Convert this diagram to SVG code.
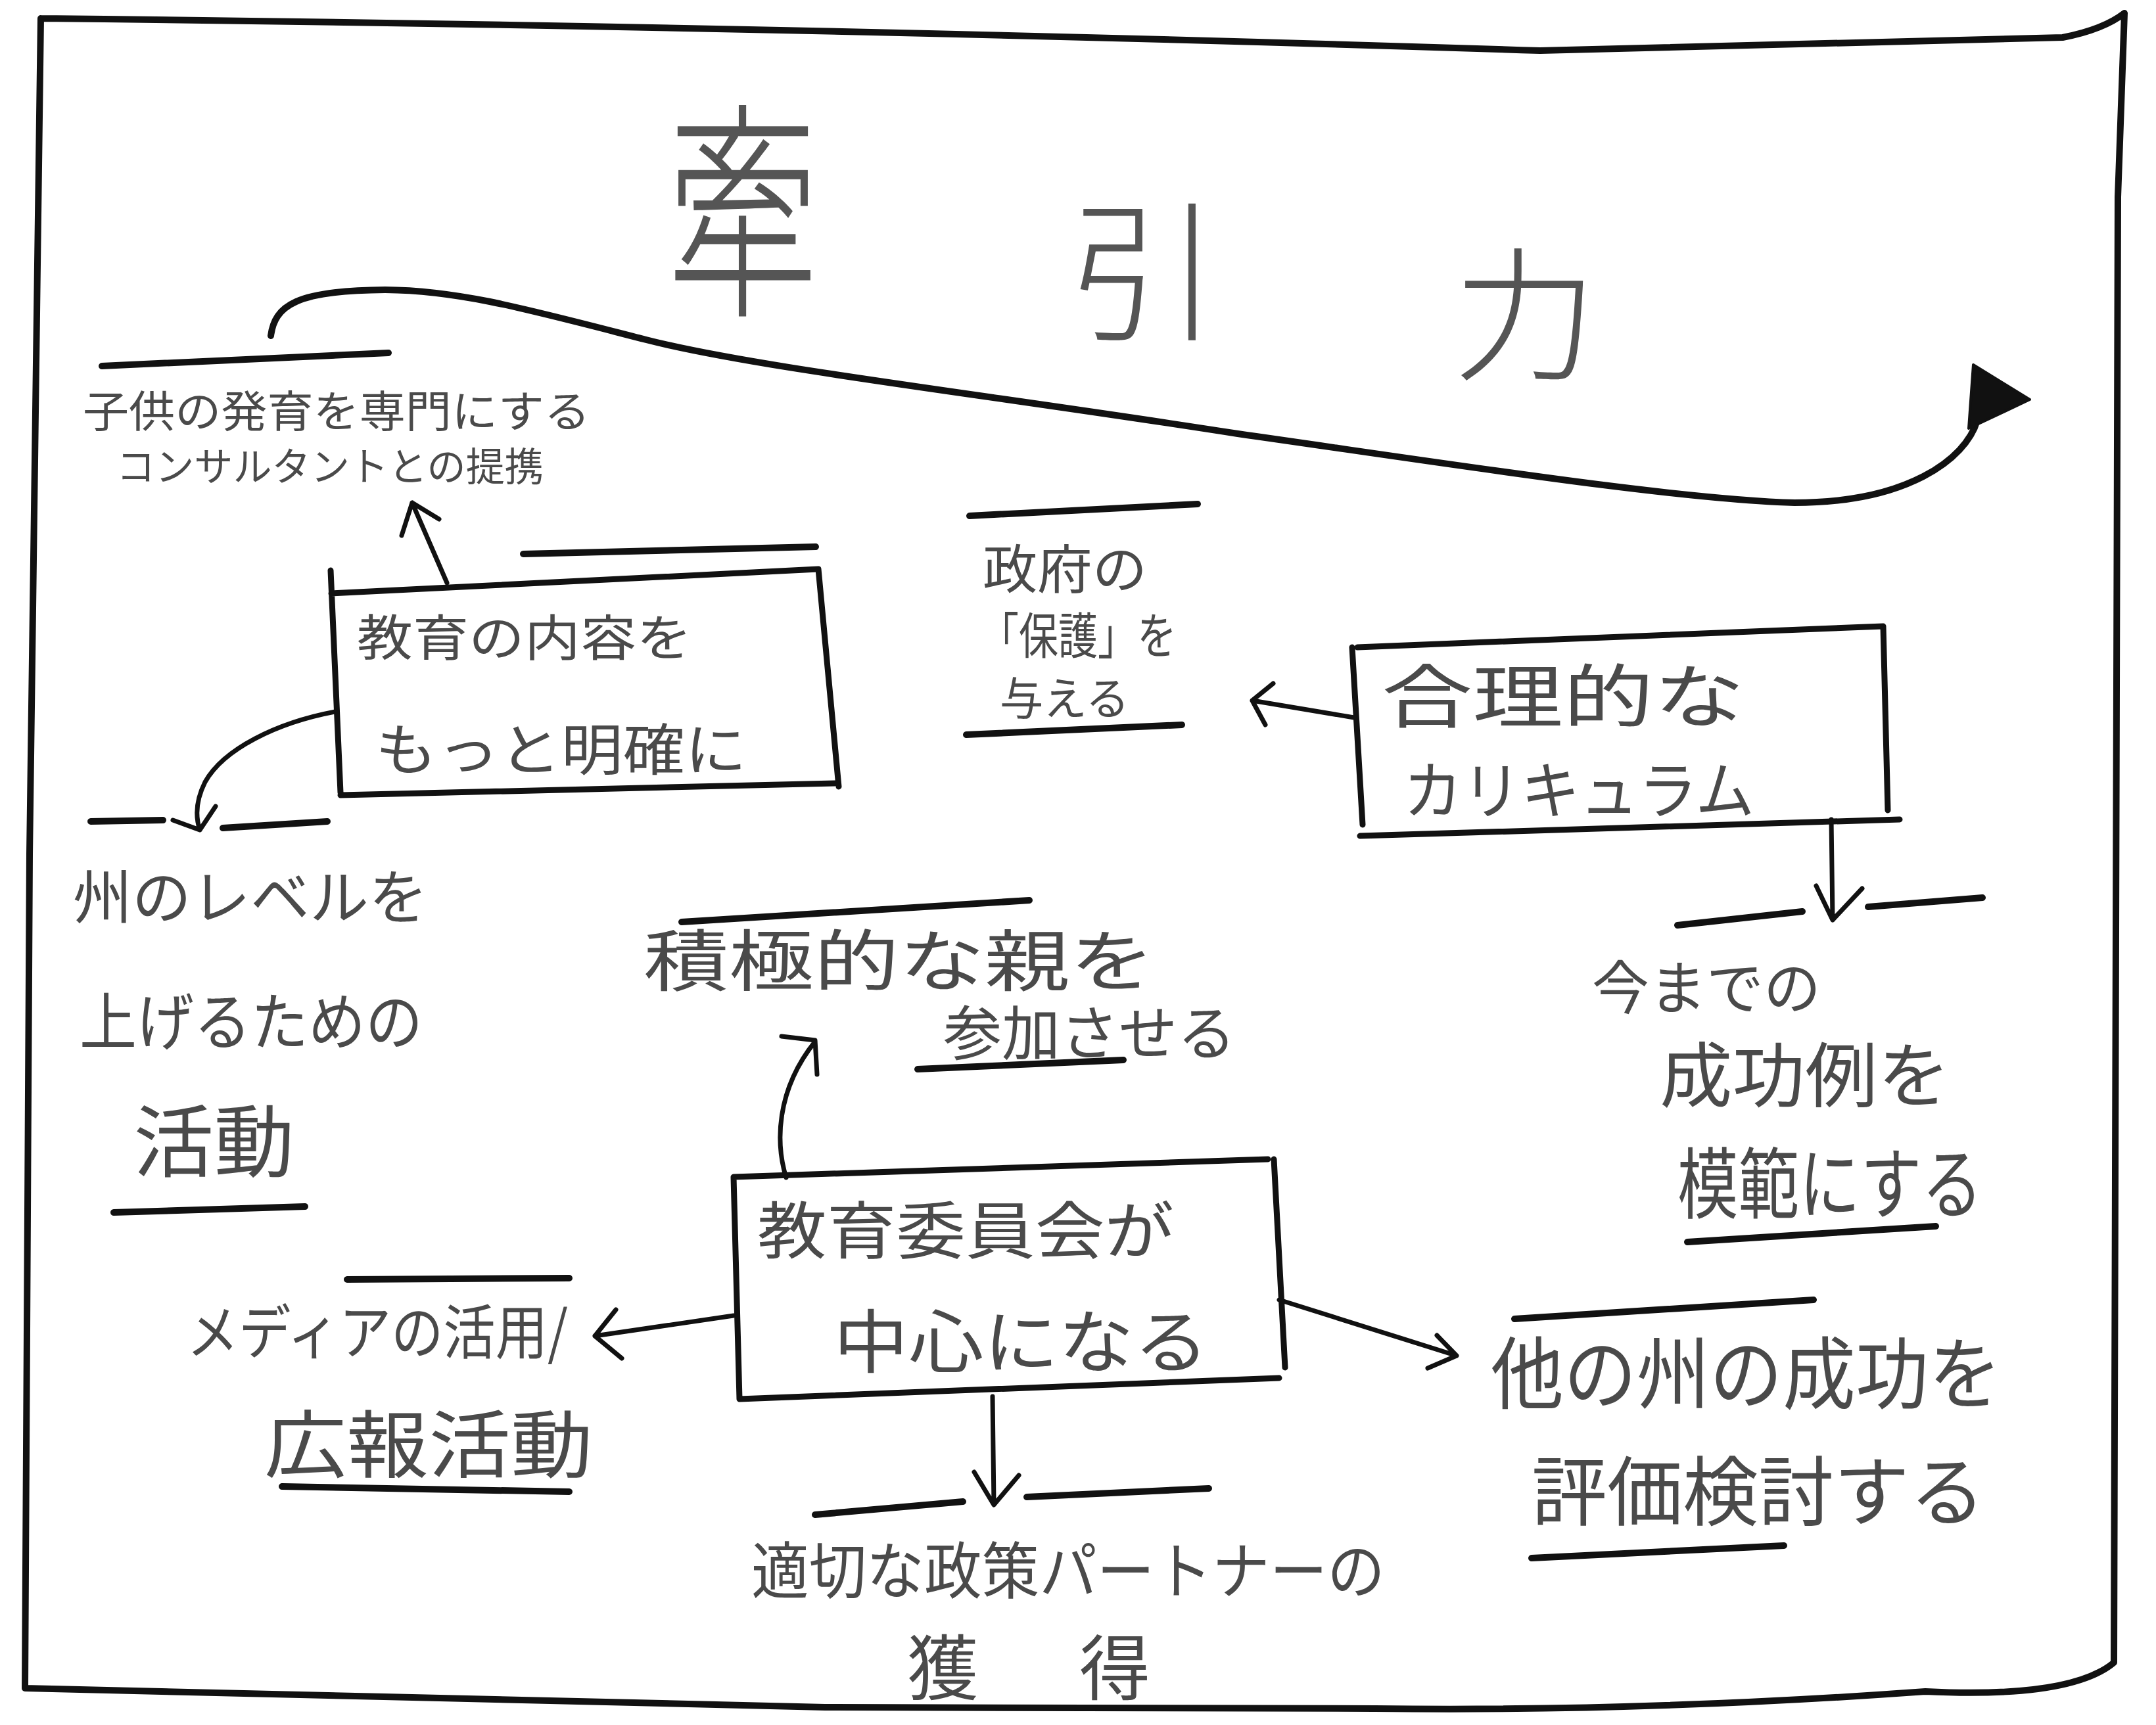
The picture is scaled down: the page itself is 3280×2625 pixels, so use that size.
<svg xmlns="http://www.w3.org/2000/svg" width="3280" height="2625" viewBox="0 0 3280 2625">
<style>
.ln{fill:none;stroke:#111;stroke-width:10;stroke-linecap:round;stroke-linejoin:round}
.bx{fill:none;stroke:#111;stroke-width:9;stroke-linecap:round;stroke-linejoin:round}
.ar{fill:none;stroke:#111;stroke-width:7;stroke-linecap:round;stroke-linejoin:round}
.t{font-family:"Noto Sans CJK JP","Noto Sans CJK SC",sans-serif;fill:#4a4a4a}
.ti{font-family:"Noto Sans CJK JP","Noto Sans CJK SC",sans-serif;fill:#555;font-weight:300}
</style>
<rect width="3280" height="2625" fill="#fff"/>
<g id="frame">
<path class="ln" d="M62,28 Q1200,40 2343,77 Q2800,66 3138,57 Q3200,45 3232,20 L3222,300 L3216,2530 Q3150,2585 2929,2574 Q2500,2605 2092,2600 Q1600,2600 1255,2598 Q900,2590 627,2583 Q300,2575 38,2569 L45,1300 L62,28"/>
</g>
<g id="title">
<text class="ti" transform="translate(1130,456) scale(0.66,1)" font-size="355" text-anchor="middle">牽</text>
<text class="ti" x="1740" y="500" font-size="230" text-anchor="middle">引</text>
<text class="ti" x="2320" y="562" font-size="220" text-anchor="middle">力</text>
</g>
<g id="connectors">
<path class="ln" d="M412,511 C418,465 450,442 586,441 C700,442 800,470 983,517 C1150,560 1500,600 1883,660 C2200,705 2550,760 2730,765 C2900,765 2990,700 3008,640"/>
<path d="M3002,555 L3088,608 L2995,652 Z" fill="#111" stroke="#111" stroke-width="4" stroke-linejoin="round"/>
<path class="ar" d="M680,887 L627,765 M611,815 L627,765 L668,790"/>
<path class="ar" d="M510,1083 C420,1100 340,1140 312,1190 C297,1220 298,1245 304,1263 M263,1248 L304,1263 L328,1227"/>
<path class="ar" d="M2060,1092 L1905,1066 M1937,1040 L1905,1066 L1925,1103"/>
<path class="ar" d="M2786,1247 L2788,1398 M2763,1348 L2788,1400 L2833,1352"/>
<path class="ar" d="M1196,1792 C1180,1740 1180,1660 1240,1585 M1189,1577 L1240,1583 L1243,1635"/>
<path class="ar" d="M1116,2002 L905,2033 M937,1993 L905,2033 L946,2067"/>
<path class="ar" d="M1946,1978 L2216,2063 M2186,2032 L2216,2063 L2172,2082"/>
<path class="ar" d="M1510,2125 L1512,2288 M1482,2240 L1512,2290 L1550,2245"/>
</g>
<g id="n-consultant">
<path class="ln" d="M155,557 L591,537"/>
<text class="t" x="126" y="650" font-size="66" textLength="772" lengthAdjust="spacingAndGlyphs">子供の発育を専門にする</text>
<text class="t" x="177" y="732" font-size="60" textLength="650" lengthAdjust="spacingAndGlyphs">コンサルタントとの提携</text>
</g>
<g id="n-content">
<path class="ln" d="M796,843 L1241,832"/>
<path class="bx" d="M503,868 L518,1206 M504,903 L1245,866 L1276,1197 M518,1210 L1270,1192"/>
<text class="t" x="543" y="998" font-size="75" textLength="510" lengthAdjust="spacingAndGlyphs">教育の内容を</text>
<text class="t" x="571" y="1172" font-size="85" textLength="565" lengthAdjust="spacingAndGlyphs">もっと明確に</text>
</g>
<g id="n-state">
<path class="ln" d="M138,1250 L248,1248 M339,1260 L498,1250 M173,1845 L464,1836"/>
<text class="t" x="111" y="1398" font-size="90" textLength="540" lengthAdjust="spacingAndGlyphs">州のレベルを</text>
<text class="t" x="121" y="1590" font-size="95" textLength="522" lengthAdjust="spacingAndGlyphs">上げるための</text>
<text class="t" x="203" y="1782" font-size="120" textLength="245" lengthAdjust="spacingAndGlyphs">活動</text>
</g>
<g id="n-government">
<path class="ln" d="M1475,785 L1822,767 M1470,1118 L1798,1103"/>
<text class="t" x="1495" y="895" font-size="80" textLength="250" lengthAdjust="spacingAndGlyphs">政府の</text>
<text class="t" x="1490" y="995" font-size="75" textLength="300" lengthAdjust="spacingAndGlyphs">「保護」を</text>
<text class="t" x="1521" y="1088" font-size="68" textLength="197" lengthAdjust="spacingAndGlyphs">与える</text>
</g>
<g id="n-curriculum">
<path class="bx" d="M2057,985 L2073,1255 M2065,985 L2865,953 L2872,1233 M2069,1272 L2890,1247"/>
<text class="t" x="2102" y="1098" font-size="105" textLength="552" lengthAdjust="spacingAndGlyphs">合理的な</text>
<text class="t" x="2135" y="1238" font-size="95" textLength="534" lengthAdjust="spacingAndGlyphs">カリキュラム</text>
</g>
<g id="n-model">
<path class="ln" d="M2552,1408 L2742,1387 M2842,1380 L3016,1366 M2567,1890 L2945,1866"/>
<text class="t" x="2422" y="1535" font-size="88" textLength="348" lengthAdjust="spacingAndGlyphs">今までの</text>
<text class="t" x="2525" y="1676" font-size="108" textLength="442" lengthAdjust="spacingAndGlyphs">成功例を</text>
<text class="t" x="2552" y="1845" font-size="118" textLength="464" lengthAdjust="spacingAndGlyphs">模範にする</text>
</g>
<g id="n-parents">
<path class="ln" d="M1037,1403 L1566,1370 M1396,1627 L1709,1613"/>
<text class="t" x="979" y="1500" font-size="102" textLength="778" lengthAdjust="spacingAndGlyphs">積極的な親を</text>
<text class="t" x="1435" y="1605" font-size="90" textLength="445" lengthAdjust="spacingAndGlyphs">参加させる</text>
</g>
<g id="n-board">
<path class="bx" d="M1116,1791 L1125,2129 M1116,1791 L1929,1764 M1938,1764 L1955,2081 M1125,2129 L1946,2097"/>
<text class="t" x="1152" y="1908" font-size="95" textLength="634" lengthAdjust="spacingAndGlyphs">教育委員会が</text>
<text class="t" x="1268" y="2080" font-size="105" textLength="571" lengthAdjust="spacingAndGlyphs">中心になる</text>
</g>
<g id="n-media">
<path class="ln" d="M528,1947 L866,1945 M429,2262 L866,2270"/>
<text class="t" x="284" y="2060" font-size="90" textLength="580" lengthAdjust="spacingAndGlyphs">メディアの活用/</text>
<text class="t" x="402" y="2240" font-size="112" textLength="500" lengthAdjust="spacingAndGlyphs">広報活動</text>
</g>
<g id="n-other-states">
<path class="ln" d="M2304,2007 L2759,1978 M2330,2371 L2714,2352"/>
<text class="t" x="2268" y="2135" font-size="120" textLength="777" lengthAdjust="spacingAndGlyphs">他の州の成功を</text>
<text class="t" x="2330" y="2312" font-size="115" textLength="690" lengthAdjust="spacingAndGlyphs">評価検討する</text>
</g>
<g id="n-partner">
<path class="ln" d="M1240,2305 L1465,2285 M1562,2278 L1839,2265"/>
<text class="t" x="1143" y="2425" font-size="94" textLength="964" lengthAdjust="spacingAndGlyphs">適切な政策パートナーの</text>
<text class="t" x="1380" y="2578" font-size="108" textLength="370" lengthAdjust="spacing">獲得</text>
</g>
</svg>
